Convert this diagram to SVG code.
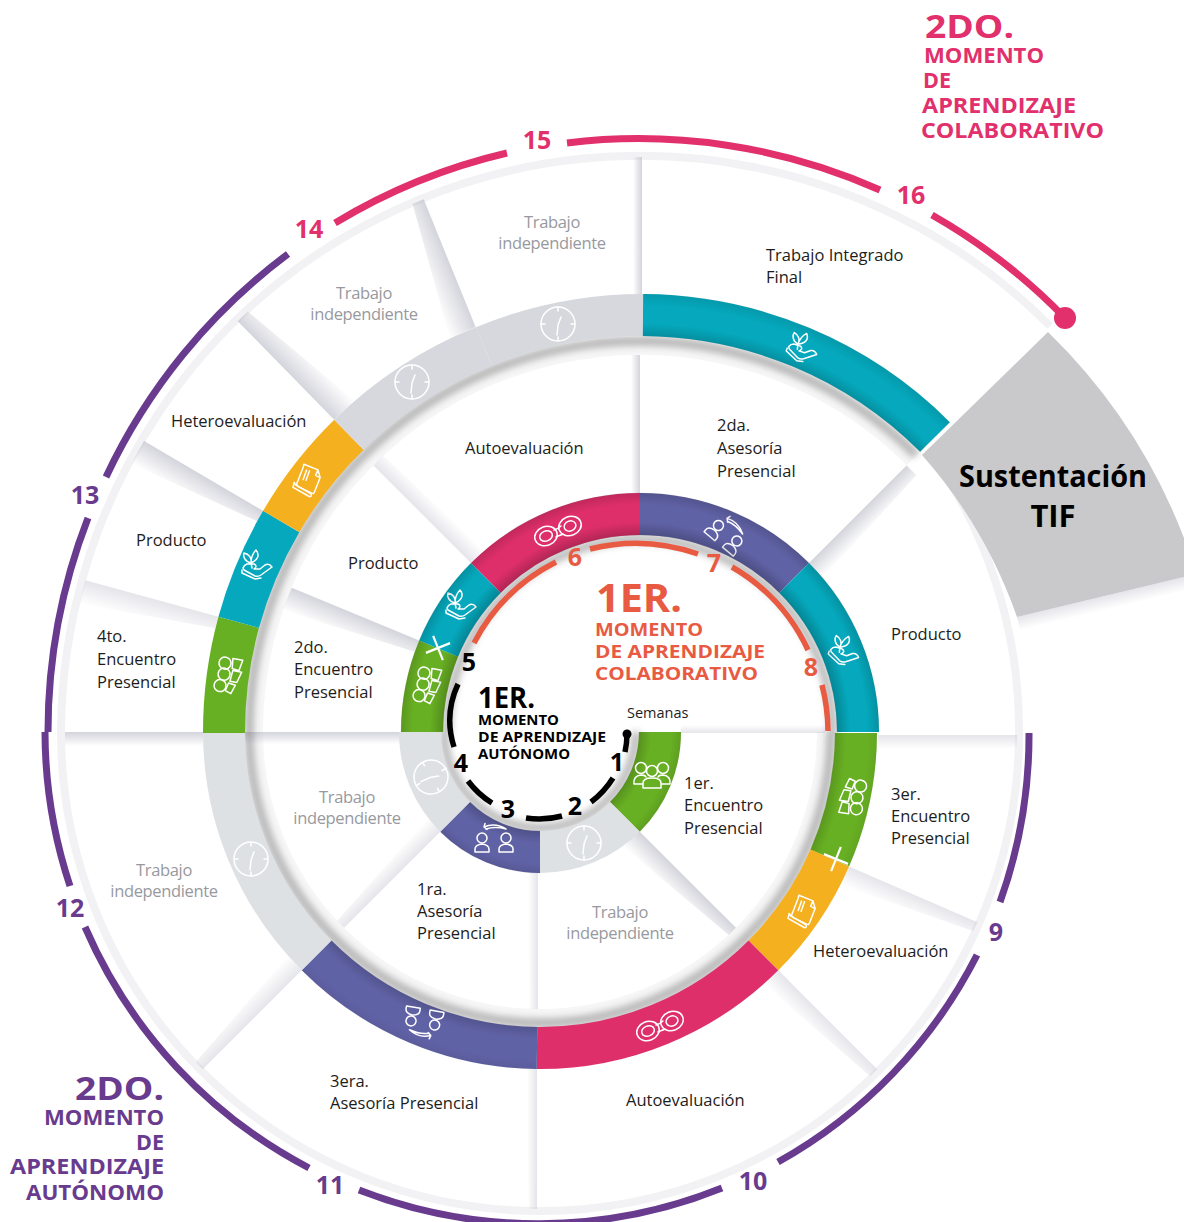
<svg xmlns="http://www.w3.org/2000/svg" width="1184" height="1222" viewBox="0 0 1184 1222">
<style>
text{font-family:"Open Sans","Noto Sans",sans-serif}
.l{font-size:16.5px;fill:#1d1d1b}
.g{font-size:16.5px;fill:#98999e;text-anchor:middle;letter-spacing:-.35px}
.n{font-size:25px;font-weight:700;text-anchor:middle;font-family:"Open Sans","Noto Sans",sans-serif}
.h{font-family:"DejaVu Sans",sans-serif;font-weight:700}
.r{fill:none;stroke-width:42}
.s{fill:url(#sh)}
.f{fill:url(#sh);opacity:.6}
.i{fill:none;stroke:#fff;stroke-width:1.5;stroke-linejoin:round;stroke-linecap:round}
.w{fill:none;stroke-width:5.5}
.o{fill:none;stroke-width:42.5}
.pur{stroke:#693b8e}.pin{stroke:#e1306c}.ora{stroke:#e85a41}.blk{stroke:#000}
</style>
<defs>
<linearGradient id="sh" x1="0" y1="0" x2="0" y2="1"><stop offset="0" stop-color="#b0b1bf" stop-opacity=".55"/><stop offset="1" stop-color="#b0b1bf" stop-opacity="0"/></linearGradient>
<radialGradient id="eU1" gradientUnits="userSpaceOnUse" cx="640" cy="732" r="239"><stop offset=".825" stop-color="#000" stop-opacity=".2"/><stop offset=".88" stop-color="#000" stop-opacity="0"/><stop offset=".95" stop-color="#000" stop-opacity="0"/><stop offset="1" stop-color="#000" stop-opacity=".14"/></radialGradient>
<radialGradient id="eU2" gradientUnits="userSpaceOnUse" cx="640" cy="732" r="437"><stop offset=".904" stop-color="#000" stop-opacity=".16"/><stop offset=".935" stop-color="#000" stop-opacity="0"/><stop offset=".975" stop-color="#000" stop-opacity="0"/><stop offset="1" stop-color="#000" stop-opacity=".08"/></radialGradient>
<radialGradient id="eL1" gradientUnits="userSpaceOnUse" cx="540" cy="732" r="141"><stop offset=".71" stop-color="#000" stop-opacity=".16"/><stop offset=".79" stop-color="#000" stop-opacity="0"/><stop offset=".93" stop-color="#000" stop-opacity="0"/><stop offset="1" stop-color="#000" stop-opacity=".1"/></radialGradient>
<radialGradient id="eL2" gradientUnits="userSpaceOnUse" cx="540" cy="732" r="337"><stop offset=".875" stop-color="#000" stop-opacity=".14"/><stop offset=".91" stop-color="#000" stop-opacity="0"/><stop offset=".97" stop-color="#000" stop-opacity="0"/><stop offset="1" stop-color="#000" stop-opacity=".06"/></radialGradient>
<filter id="bl" x="-20%" y="-20%" width="140%" height="140%"><feGaussianBlur stdDeviation="3.5"/></filter>
<g id="clock" class="i"><circle r="17"/><path d="M0 -17V-13M0 17V13M-17 0H-13M17 0H13M0 1L3 -7M0 1L-1 11"/></g>
<g id="hand" class="i"><path d="M-6 -2C-13 -4 -14 -9 -13 -12C-8 -11 -5 -7 -6 -2ZM-6 -2C-6 -9 -3 -13 -1 -15C3 -10 1 -5 -6 -2ZM-6 -2L-5 3M-13 5L-2 11Q1 12 4 10L15 2Q12 -2 8 0L3 4L-3 4Q1 1 -3 -1L-10 -1Q-13 0 -14 3L-13 5ZM-15 5L-15 8L-2 14L4 13"/></g>
<g id="glasses" class="i"><path d="M-4 -1C-1 -2 1 -3 3 -5M-2 6C0 5 3 4 5 3"/><ellipse cx="-12" cy="5" rx="11.5" ry="9.5" transform="rotate(-22 -12 5)"/><ellipse cx="-12" cy="5" rx="6.5" ry="5" transform="rotate(-22 -12 5)"/><ellipse cx="12" cy="-5" rx="11.5" ry="9.5" transform="rotate(-22 12 -5)"/><ellipse cx="12" cy="-5" rx="6" ry="5" transform="rotate(-22 12 -5)"/></g>
<g id="swap" class="i"><circle cx="-12" cy="-1" r="5"/><path d="M-19 13V10Q-19 6 -12 5Q-5 6 -5 10V13Z"/><circle cx="12" cy="-1" r="5"/><path d="M5 13V10Q5 6 12 5Q19 6 19 10V13Z"/><path d="M12 -10Q1 -17 -10 -12L-7 -9.5M-10 -12L-9 -15.5M12 -10Q1 -13 -8 -10"/></g>
<g id="shapes" class="i"><circle cx="-6" cy="-11" r="6"/><circle cx="-5" cy="0" r="6"/><circle cx="-7" cy="12" r="6"/><path d="M1 -17L11 -17L9 -6L2 -7ZM3 -5L12 -5L9 6L2 6ZM1 8L8 9L5 18L-1 16Z"/></g>
<g id="trio" class="i"><circle cx="-11" cy="-7" r="5.5"/><circle cx="11" cy="-7" r="5.5"/><circle cx="0" cy="-4" r="5.5"/><path d="M-18 9Q-19 1 -11 0Q-7 0 -6 2M18 9Q19 1 11 0Q7 0 6 2M-18 9H-9M18 9H9M-9 13V8Q-9 3 0 3Q9 3 9 8V13Z"/></g>
<g id="book" class="i"><path d="M-9 -15L6 -13L10 -6L8 9Q8 12 5 11L-9 8Q-12 7 -11 4L-9 -12Q-9 -15 -9 -15ZM6 -13L5 -7L10 -6M-5 -10L-6 0M-2 -10L-3 0"/><path d="M-14 5L-14 10L4 15Q7 15 5 12L-12 7Z"/></g>
<g id="plus" fill="none" stroke="#fff" stroke-width="2.2"><path d="M-13 0H13M0 -13V13"/></g>
</defs>
<rect width="1184" height="1222" fill="#fff"/>

<g id="bands" fill="none">
<path d="M61 732A579 579 0 0 1 1050 326" stroke="#f2f2f4" stroke-width="8"/>
<path d="M61 732A479 479 0 0 0 1019 732A479 479 0 0 0 928 449" stroke="#f2f2f4" stroke-width="8"/>
<path d="M254 732A386 386 0 0 1 913 459" stroke="#f6f6f7" stroke-width="18"/>
<path d="M254 732A286 286 0 0 0 826 732" stroke="#f6f6f7" stroke-width="18"/>
</g>

<g id="sustentacion">
<polygon class="f" points="0,0 175,0 175,14 0,14" transform="translate(1017 617) rotate(-13.5)"/>
<path d="M922 455L1048 332A575 575 0 0 1 1184 538V577L1017 617A490 490 0 0 0 922 455Z" fill="#c9c9cc"/>
<text x="1053" y="487" text-anchor="middle" font-size="31" font-weight="700" fill="#000" textLength="188" lengthAdjust="spacingAndGlyphs">Sustentación</text>
<text x="1053" y="527" text-anchor="middle" font-size="31" font-weight="700" fill="#000">TIF</text>
</g>

<g id="divider-shadows">
<polygon class="s" points="437,0 575,0 575,9 437,9" transform="translate(642 732) rotate(270) scale(1 -1)"/>
<polygon class="s" points="239,0 377,0 377,9 239,9" transform="translate(640 732) rotate(270) scale(1 -1)"/>
<polygon class="s" points="437,0 575,0 575,12 437,28" transform="translate(640 732) rotate(247.9) scale(1 -1)"/>
<polygon class="s" points="437,0 575,0 575,14 437,28" transform="translate(640 732) rotate(225.6)"/>
<polygon class="s" points="437,0 575,0 575,26 437,12" transform="translate(640 732) rotate(210.4) scale(1 -1)"/>
<polygon class="f" points="437,0 575,0 575,24 437,12" transform="translate(640 732) rotate(195.3) scale(1 -1)"/>
<polygon class="s" points="437,0 575,0 575,14 437,14" transform="translate(640 732) rotate(180) scale(1 -1)"/>
<polygon class="s" points="239,0 395,0 395,12 239,12" transform="translate(640 732) rotate(180) scale(1 -1)"/>
<polygon class="s" points="239,0 377,0 377,24 239,12" transform="translate(640 732) rotate(202.5) scale(1 -1)"/>
<polygon class="f" points="239,0 377,0 377,14 239,18" transform="translate(640 732) rotate(225)"/>
<polygon class="s" points="239,0 377,0 377,14 239,20" transform="translate(640 732) rotate(315)"/>
<polygon class="f" points="238,0 377,0 377,14 238,14" transform="translate(640 735) rotate(0)"/>
<polygon class="f" points="141,0 285,0 285,8 141,8" transform="translate(540 733) rotate(0) scale(1 -1)"/>
<polygon class="s" points="140,0 277,0 277,10 140,22" transform="translate(540 732) rotate(45)"/>
<polygon class="f" points="140,0 277,0 277,8 140,10" transform="translate(538 732) rotate(90)"/>
<polygon class="f" points="140,0 277,0 277,10 140,18" transform="translate(540 732) rotate(135)"/>
<polygon class="f" points="337,0 477,0 477,10 337,20" transform="translate(540 732) rotate(23.5)"/>
<polygon class="f" points="337,0 477,0 477,10 337,20" transform="translate(540 732) rotate(45)"/>
<polygon class="f" points="337,0 477,0 477,8 337,10" transform="translate(537 732) rotate(90)"/>
<polygon class="f" points="337,0 477,0 477,10 337,20" transform="translate(540 732) rotate(135)"/>
</g>

<g id="ring-shadows" fill="none" stroke="#5c5c5c" stroke-width="9" opacity=".42" filter="url(#bl)">
<path d="M447 732A193 193 0 0 1 833 732"/>
<path d="M249 732A391 391 0 0 1 916 455"/>
<path d="M249 732A291 291 0 0 0 831 732"/>
<path d="M444 732A96 96 0 0 0 636 732"/>
</g>

<g id="s1-encuentro"><path class="r" d="M660 732A120 120 0 0 1 624.9 816.9" stroke="#68b023"/><path class="o" d="M660 732A120 120 0 0 1 624.9 816.9" stroke="url(#eL1)"/><use href="#trio" x="652" y="775"/><text class="l" x="684" y="789">1er.</text><text class="l" x="684" y="811">Encuentro</text><text class="l" x="684" y="834">Presencial</text></g>
<g id="s2-trabajo"><path class="r" d="M624.9 816.9A120 120 0 0 1 540 852" stroke="#dee1e3"/><use href="#clock" x="584" y="843"/><text class="g" x="620" y="918">Trabajo</text><text class="g" x="620" y="939">independiente</text></g>
<g id="s3-asesoria"><path class="r" d="M540 852A120 120 0 0 1 455.1 816.9" stroke="#6062a6"/><path class="o" d="M540 852A120 120 0 0 1 455.1 816.9" stroke="url(#eL1)"/><use href="#swap" x="494" y="839"/><text class="l" x="417" y="895">1ra.</text><text class="l" x="417" y="917">Asesoría</text><text class="l" x="417" y="939">Presencial</text></g>
<g id="s4-trabajo"><path class="r" d="M455.1 816.9A120 120 0 0 1 420 732" stroke="#dee1e3"/><g transform="translate(431 777) rotate(60)"><use href="#clock"/></g><text class="g" x="347" y="803">Trabajo</text><text class="g" x="347" y="824">independiente</text></g>
<g id="s5-encuentro"><path class="r" d="M422 732A218 218 0 0 1 438.6 648.6" stroke="#68b023"/><g transform="translate(428 685) rotate(10)"><use href="#shapes"/></g><text class="l" x="294" y="653">2do.</text><text class="l" x="294" y="675">Encuentro</text><text class="l" x="294" y="698">Presencial</text></g>
<g id="s5-producto"><path class="r" d="M438.6 648.6A218 218 0 0 1 485.9 577.9" stroke="#05a8bc"/><use href="#hand" x="461" y="605"/><text class="l" x="348" y="569">Producto</text></g>
<g id="s6-autoevaluacion"><path class="r" d="M485.9 577.9A218 218 0 0 1 640 514" stroke="#df2f6b"/><use href="#glasses" x="558" y="531"/><text class="l" x="465" y="454">Autoevaluación</text></g>
<g id="s7-asesoria"><path class="r" d="M640 514A218 218 0 0 1 794.1 577.9" stroke="#6062a6"/><g transform="translate(727 534) rotate(40)"><use href="#swap"/></g><text class="l" x="717" y="431">2da.</text><text class="l" x="717" y="454">Asesoría</text><text class="l" x="717" y="477">Presencial</text></g>
<g id="s8-producto"><path class="r" d="M794.1 577.9A218 218 0 0 1 858 732" stroke="#05a8bc"/><g transform="translate(845 651) rotate(18)"><use href="#hand"/></g><text class="l" x="891" y="640">Producto</text></g>
<path class="o" d="M422 732A218 218 0 0 1 858 732" stroke="url(#eU1)"/>
<g id="s9-encuentro"><path class="r" d="M856 733A316 316 0 0 1 829.8 858" stroke="#68b023"/><path class="o" d="M856 733A316 316 0 0 1 829.8 858" stroke="url(#eL2)"/><g transform="translate(852 797) rotate(188)"><use href="#shapes"/></g><text class="l" x="891" y="800">3er.</text><text class="l" x="891" y="822">Encuentro</text><text class="l" x="891" y="844">Presencial</text></g>
<g id="s9-heteroevaluacion"><path class="r" d="M829.8 858A316 316 0 0 1 763.4 955.4" stroke="#f4b01e"/><g transform="translate(804 912) rotate(14)"><use href="#book"/></g><text class="l" x="813" y="957">Heteroevaluación</text></g>
<g id="s10-autoevaluacion"><path class="r" d="M763.4 955.4A316 316 0 0 1 537 1048" stroke="#df2f6b"/><use href="#glasses" x="660" y="1026"/><text class="l" x="626" y="1106">Autoevaluación</text></g>
<g id="s11-asesoria"><path class="r" d="M537 1048A316 316 0 0 1 316.6 955.4" stroke="#6062a6"/><path class="o" d="M537 1048A316 316 0 0 1 316.6 955.4" stroke="url(#eL2)"/><g transform="translate(423 1022) rotate(190)"><use href="#swap"/></g><text class="l" x="330" y="1087">3era.</text><text class="l" x="330" y="1109">Asesoría Presencial</text></g>
<g id="s12-trabajo"><path class="r" d="M316.6 955.4A316 316 0 0 1 224 732" stroke="#dee1e3"/><use href="#clock" x="251" y="859"/><text class="g" x="164" y="876">Trabajo</text><text class="g" x="164" y="897">independiente</text></g>
<g id="s13-encuentro"><path class="r" d="M224 733A416 416 0 0 1 238.7 622.2" stroke="#68b023"/><g transform="translate(229 675) rotate(10)"><use href="#shapes"/></g><text class="l" x="97" y="642">4to.</text><text class="l" x="97" y="665">Encuentro</text><text class="l" x="97" y="688">Presencial</text></g>
<g id="s13-producto"><path class="r" d="M238.7 622.2A416 416 0 0 1 281.2 521.5" stroke="#05a8bc"/><use href="#hand" x="257" y="565"/><text class="l" x="136" y="546">Producto</text></g>
<g id="s13-heteroevaluacion"><path class="r" d="M281.2 521.5A416 416 0 0 1 348.9 434.8" stroke="#f4b01e"/><g transform="translate(309 481) rotate(14)"><use href="#book"/></g><text class="l" x="171" y="427">Heteroevaluación</text></g>
<g id="s14-trabajo"><path class="r" d="M348.9 434.8A416 416 0 0 1 484 346.6" stroke="#d6d8de"/><use href="#clock" x="412" y="382"/><text class="g" x="364" y="299">Trabajo</text><text class="g" x="364" y="320">independiente</text></g>
<g id="s15-trabajo"><path class="r" d="M484 346.6A416 416 0 0 1 643 315" stroke="#d6d8de"/><use href="#clock" x="558" y="324"/><text class="g" x="552" y="228">Trabajo</text><text class="g" x="552" y="249">independiente</text></g>
<g id="s16-tif"><path class="r" d="M643 315A417 417 0 0 1 935 437" stroke="#05a8bc"/><path class="o" d="M643 315A417 417 0 0 1 935 437" stroke="url(#eU2)"/><g transform="translate(803 348) rotate(18)"><use href="#hand"/></g><text class="l" x="766" y="261">Trabajo Integrado</text><text class="l" x="766" y="283">Final</text></g>

<g id="plus-signs"><g transform="translate(438 648) rotate(-22)"><use href="#plus"/></g><g transform="translate(836 859) rotate(22)"><use href="#plus"/></g></g>

<g id="connectors">
<path class="w blk" d="M627 733A87 87 0 0 1 625 752M613 778A87 87 0 0 1 591 802M562 816A87 87 0 0 1 526 818M492 803A87 87 0 0 1 468 781M454 747A87 87 0 0 1 458 684"/>
<circle cx="627" cy="734" r="4.5" fill="#000"/>
<path class="w ora" d="M474 643A188 188 0 0 1 556 562M590 549A188 188 0 0 1 698 554M732 567A188 188 0 0 1 808 650M822 685A188 188 0 0 1 828 731"/>
<path class="w pin" style="stroke-width:7" d="M335 223A592 592 0 0 1 507 153M567 143A592 592 0 0 1 880 190M932 215A592 592 0 0 1 1065 318"/>
<circle cx="1065" cy="318" r="11" fill="#e1306c"/>
<path class="w pur" style="stroke-width:7" d="M48 732A592 592 0 0 1 88 518M106 477A592 592 0 0 1 288 254"/>
<path class="w pur" style="stroke-width:7" d="M1029 733A492 492 0 0 1 1000 902M977 955A492 492 0 0 1 778 1162M722 1188A492 492 0 0 1 359 1190M309 1168A492 492 0 0 1 85 927M70 886A492 492 0 0 1 45 732"/>
</g>

<g id="week-numbers">
<g fill="#e1306c"><text class="n" x="537" y="149">15</text><text class="n" x="911" y="204">16</text><text class="n" x="309" y="238">14</text></g>
<g fill="#693b8e"><text class="n" x="85" y="504">13</text><text class="n" x="70" y="917">12</text><text class="n" x="330" y="1194">11</text><text class="n" x="753" y="1190">10</text><text class="n" x="996" y="941">9</text></g>
<g fill="#000"><text class="n" x="617" y="771">1</text><text class="n" x="575" y="815">2</text><text class="n" x="508" y="818">3</text><text class="n" x="461" y="772">4</text><text class="n" x="469" y="671">5</text></g>
<g fill="#e85a41"><text class="n" x="575" y="566">6</text><text class="n" x="714" y="572">7</text><text class="n" x="811" y="676">8</text></g>
<text x="627" y="718" font-size="14.5" fill="#1d1d1b">Semanas</text>
</g>

<g id="title-2do-colaborativo" fill="#e1306c" class="h">
<text x="925" y="38" font-size="32" textLength="89" lengthAdjust="spacingAndGlyphs">2DO.</text>
<text x="924" y="63" font-size="21" textLength="120" lengthAdjust="spacingAndGlyphs">MOMENTO</text>
<text x="923" y="88" font-size="21" textLength="28" lengthAdjust="spacingAndGlyphs">DE</text>
<text x="922" y="113" font-size="21" textLength="154" lengthAdjust="spacingAndGlyphs">APRENDIZAJE</text>
<text x="921" y="138" font-size="21" textLength="183" lengthAdjust="spacingAndGlyphs">COLABORATIVO</text>
</g>
<g id="title-2do-autonomo" fill="#693b8e" class="h">
<text x="75" y="1100" font-size="32" textLength="89" lengthAdjust="spacingAndGlyphs">2DO.</text>
<text x="44" y="1125" font-size="21" textLength="120" lengthAdjust="spacingAndGlyphs">MOMENTO</text>
<text x="136" y="1150" font-size="21" textLength="28" lengthAdjust="spacingAndGlyphs">DE</text>
<text x="10" y="1174" font-size="21" textLength="154" lengthAdjust="spacingAndGlyphs">APRENDIZAJE</text>
<text x="26" y="1200" font-size="21" textLength="138" lengthAdjust="spacingAndGlyphs">AUTÓNOMO</text>
</g>
<g id="title-1er-colaborativo" fill="#e85a41" class="h">
<text x="596" y="612" font-size="40" textLength="86" lengthAdjust="spacingAndGlyphs">1ER.</text>
<text x="595" y="636" font-size="18.5" textLength="108" lengthAdjust="spacingAndGlyphs">MOMENTO</text>
<text x="595" y="658" font-size="18.5" textLength="170" lengthAdjust="spacingAndGlyphs">DE APRENDIZAJE</text>
<text x="595" y="680" font-size="18.5" textLength="163" lengthAdjust="spacingAndGlyphs">COLABORATIVO</text>
</g>
<g id="title-1er-autonomo" fill="#000" class="h">
<text x="478" y="708" font-size="29" textLength="57" lengthAdjust="spacingAndGlyphs">1ER.</text>
<text x="478" y="725" font-size="15" textLength="81" lengthAdjust="spacingAndGlyphs">MOMENTO</text>
<text x="478" y="742" font-size="15" textLength="128" lengthAdjust="spacingAndGlyphs">DE APRENDIZAJE</text>
<text x="478" y="759" font-size="15" textLength="92" lengthAdjust="spacingAndGlyphs">AUTÓNOMO</text>
</g>
</svg>
